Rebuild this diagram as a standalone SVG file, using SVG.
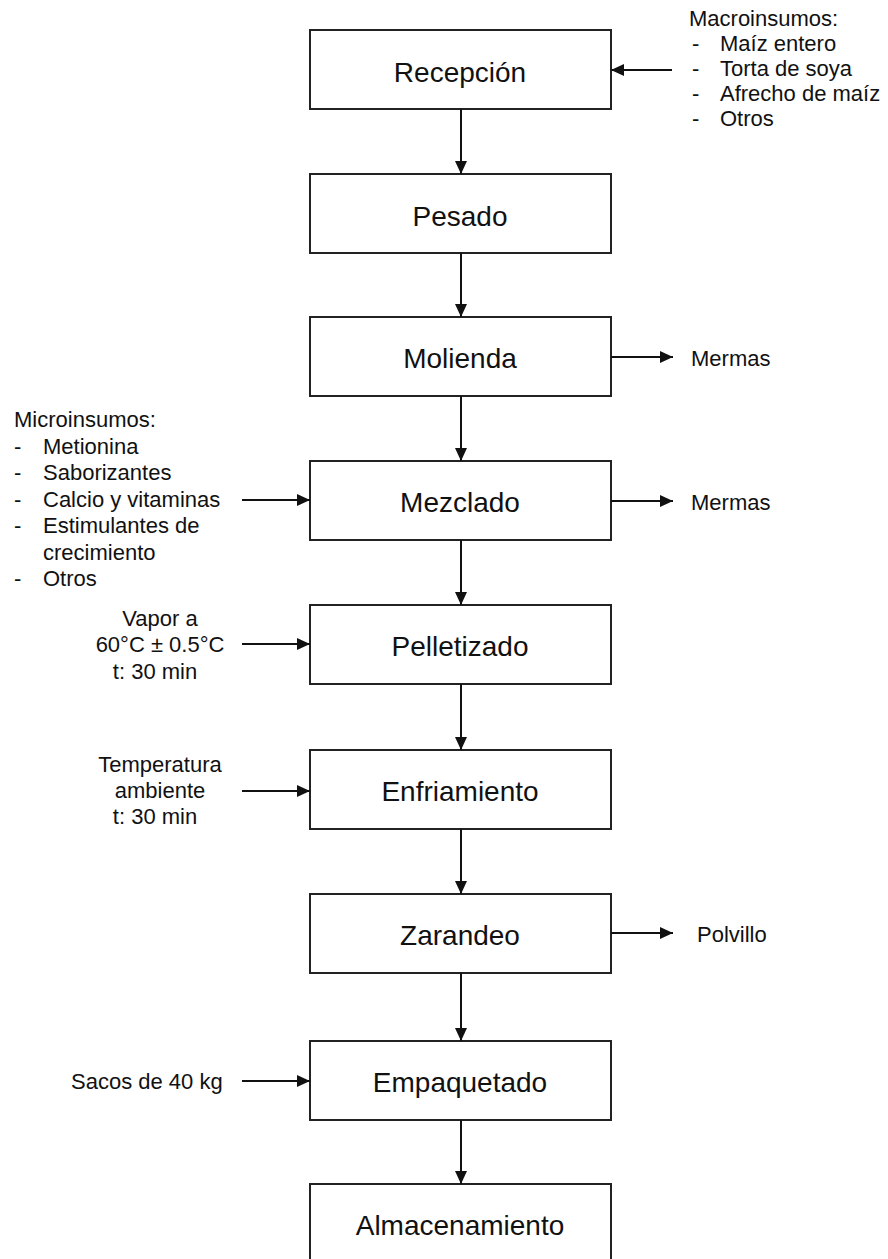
<svg xmlns="http://www.w3.org/2000/svg" width="888" height="1259" viewBox="0 0 888 1259">
<style>
.box{fill:#fff;stroke:#222;stroke-width:2}
.lbl{font-family:"Liberation Sans",Arial,sans-serif;font-size:28px;fill:#111;text-anchor:middle}
.side{font-family:"Liberation Sans",Arial,sans-serif;font-size:22px;fill:#111}
.mid{text-anchor:middle}
.conn line{stroke:#111;stroke-width:2;fill:none}
</style>
<defs>
<marker id="ah" markerWidth="13" markerHeight="13" viewBox="0 0 13 13" refX="13" refY="6.5" orient="auto" markerUnits="userSpaceOnUse">
<path d="M0,0.5 L13,6.5 L0,12.5 z" fill="#111"/>
</marker>
</defs>
<rect width="888" height="1259" fill="#fff"/>

<g id="recepcion"><rect class="box" x="310" y="30" width="301" height="79"/><text class="lbl" x="460" y="82">Recepción</text></g>
<g id="pesado"><rect class="box" x="310" y="174" width="301" height="79"/><text class="lbl" x="460" y="226">Pesado</text></g>
<g id="molienda"><rect class="box" x="310" y="317" width="301" height="79"/><text class="lbl" x="460" y="368">Molienda</text></g>
<g id="mezclado"><rect class="box" x="310" y="461" width="301" height="79"/><text class="lbl" x="460" y="512">Mezclado</text></g>
<g id="pelletizado"><rect class="box" x="310" y="605" width="301" height="79"/><text class="lbl" x="460" y="656">Pelletizado</text></g>
<g id="enfriamiento"><rect class="box" x="310" y="750" width="301" height="79"/><text class="lbl" x="460" y="801">Enfriamiento</text></g>
<g id="zarandeo"><rect class="box" x="310" y="894" width="301" height="79"/><text class="lbl" x="460" y="945">Zarandeo</text></g>
<g id="empaquetado"><rect class="box" x="310" y="1041" width="301" height="79"/><text class="lbl" x="460" y="1092">Empaquetado</text></g>
<g id="almacenamiento"><rect class="box" x="310" y="1184" width="301" height="79"/><text class="lbl" x="460" y="1235">Almacenamiento</text></g>

<g id="macroinsumos" class="side">
<text x="689" y="26">Macroinsumos:</text>
<text x="692" y="51">-</text><text x="720" y="51">Maíz entero</text>
<text x="692" y="76">-</text><text x="720" y="76">Torta de soya</text>
<text x="692" y="101">-</text><text x="720" y="101">Afrecho de maíz</text>
<text x="692" y="126">-</text><text x="720" y="126">Otros</text>
</g>

<g id="microinsumos" class="side">
<text x="14" y="427">Microinsumos:</text>
<text x="14" y="454">-</text><text x="43" y="454">Metionina</text>
<text x="14" y="480">-</text><text x="43" y="480">Saborizantes</text>
<text x="14" y="507">-</text><text x="43" y="507">Calcio y vitaminas</text>
<text x="14" y="533">-</text><text x="43" y="533">Estimulantes de</text>
<text x="43" y="560">crecimiento</text>
<text x="14" y="586">-</text><text x="43" y="586">Otros</text>
</g>

<g id="vapor" class="side mid">
<text x="160" y="626">Vapor a</text>
<text x="160" y="652">60°C ± 0.5°C</text>
<text x="155" y="679">t: 30 min</text>
</g>

<g id="temperatura" class="side mid">
<text x="160" y="772">Temperatura</text>
<text x="160" y="798">ambiente</text>
<text x="155" y="824">t: 30 min</text>
</g>

<g id="sacos" class="side"><text x="71" y="1089">Sacos de 40 kg</text></g>
<g id="mermas1" class="side"><text x="691" y="366">Mermas</text></g>
<g id="mermas2" class="side"><text x="691" y="510">Mermas</text></g>
<g id="polvillo" class="side"><text x="697" y="942">Polvillo</text></g>

<g id="connectors" class="conn">
<line x1="461" y1="109" x2="461" y2="174" marker-end="url(#ah)"/>
<line x1="461" y1="253" x2="461" y2="317" marker-end="url(#ah)"/>
<line x1="461" y1="396" x2="461" y2="461" marker-end="url(#ah)"/>
<line x1="461" y1="540" x2="461" y2="605" marker-end="url(#ah)"/>
<line x1="461" y1="684" x2="461" y2="750" marker-end="url(#ah)"/>
<line x1="461" y1="829" x2="461" y2="894" marker-end="url(#ah)"/>
<line x1="461" y1="973" x2="461" y2="1041" marker-end="url(#ah)"/>
<line x1="461" y1="1120" x2="461" y2="1184" marker-end="url(#ah)"/>
<line x1="672" y1="70" x2="611" y2="70" marker-end="url(#ah)"/>
<line x1="611" y1="357" x2="673" y2="357" marker-end="url(#ah)"/>
<line x1="611" y1="501" x2="673" y2="501" marker-end="url(#ah)"/>
<line x1="611" y1="933" x2="673" y2="933" marker-end="url(#ah)"/>
<line x1="242" y1="500" x2="310" y2="500" marker-end="url(#ah)"/>
<line x1="242" y1="644" x2="310" y2="644" marker-end="url(#ah)"/>
<line x1="242" y1="791" x2="310" y2="791" marker-end="url(#ah)"/>
<line x1="242" y1="1081" x2="310" y2="1081" marker-end="url(#ah)"/>
</g>
</svg>
